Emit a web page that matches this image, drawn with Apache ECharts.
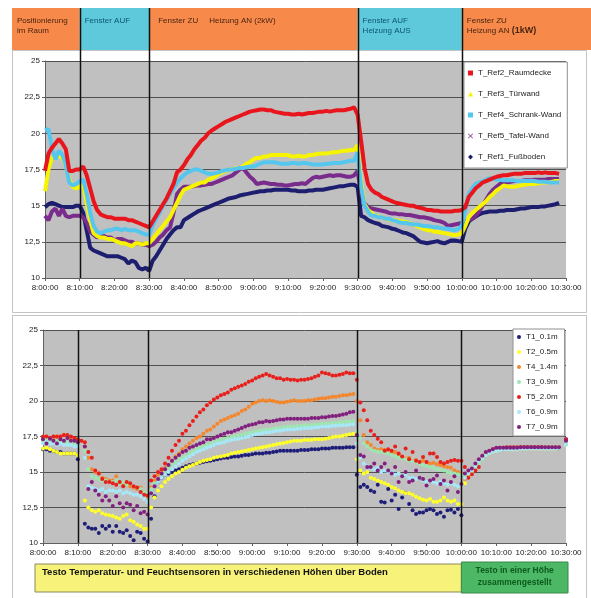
<!DOCTYPE html>
<html><head><meta charset="utf-8">
<script src="https://cdn.jsdelivr.net/npm/echarts@6/dist/echarts.min.js"></script>
<style>html,body{margin:0;padding:0;background:#fff}#c{width:591px;height:598px}</style>
</head><body><div id="c"></div>
<script>
// ---------- axis / labels ----------
const tickLabels = ['8:00:00','8:10:00','8:20:00','8:30:00','8:40:00','8:50:00','9:00:00','9:10:00','9:20:00','9:30:00','9:40:00','9:50:00','10:00:00','10:10:00','10:20:00','10:30:00'];
const eventMinutes = [10, 30, 90, 120]; // 8:10, 8:30, 9:30, 10:00
const phaseTexts = [
  ['Positionierung', 'im Raum'],
  ['Fenster AUF'],
  ['Fenster ZU     Heizung AN (2kW)'],
  ['Fenster AUF', 'Heizung AUS'],
  ['Fenster ZU', 'Heizung AN {b|(1kW)}']
];
const bandTexts = ['Testo Temperatur- und Feuchtsensoren in verschiedenen Höhen über Boden', 'Testo in einer Höhe', 'zusammengestellt'];

// ---------- top chart (one value per minute from 8:00) ----------
const topNames = ['T_Ref2_Raumdecke','T_Ref3_Türwand','T_Ref4_Schrank-Wand','T_Ref5_Tafel-Wand','T_Ref1_Fußboden'];
const topRef2 = [17.4,18.6,19.0,19.3,19.6,19.3,18.9,17.4,17.4,17.5,
 17.5,17.7,17.1,16.2,15.3,14.7,14.4,14.3,14.2,14.2,
 14.1,14.1,14.1,14.1,14.0,14.0,13.9,13.8,13.7,13.6,
 13.5,13.9,14.3,14.7,15.1,15.5,16.0,16.5,17.3,17.5,
 17.8,18.2,18.5,18.9,19.2,19.5,19.7,20.0,20.2,20.35,
 20.5,20.65,20.8,20.9,21.0,21.1,21.2,21.3,21.4,21.5,
 21.55,21.6,21.65,21.65,21.6,21.6,21.5,21.45,21.4,21.35,
 21.35,21.3,21.3,21.35,21.3,21.35,21.4,21.4,21.45,21.5,
 21.5,21.55,21.5,21.55,21.6,21.6,21.6,21.65,21.7,21.8,
 21.3,19.5,17.6,16.5,16.1,15.9,15.8,15.6,15.5,15.4,
 15.3,15.2,15.15,15.1,15.05,15.0,15.0,14.9,14.85,14.8,
 14.7,14.7,14.65,14.65,14.6,14.6,14.6,14.6,14.65,14.65,
 14.7,14.9,15.6,15.9,16.2,16.4,16.6,16.7,16.8,16.9,
 17.0,17.05,17.1,17.1,17.15,17.2,17.2,17.2,17.25,17.25,
 17.25,17.25,17.3,17.25,17.3,17.25,17.25,17.25,17.2,null,
 null];
const topRef3 = [16.0,17.5,18.3,18.5,18.4,18.3,17.8,16.8,16.3,16.2,
 16.3,16.4,15.2,14.0,13.1,12.9,12.8,12.8,12.7,12.7,
 12.6,12.5,12.4,12.4,12.3,12.2,12.4,12.4,12.3,12.4,
 12.4,12.7,13.0,13.3,13.6,13.9,14.2,14.7,15.2,15.7,
 16.1,16.2,16.3,16.4,16.5,16.6,16.6,16.8,16.9,17.0,
 17.2,17.3,17.4,17.5,17.5,17.6,17.6,17.7,17.9,18.0,
 18.2,18.3,18.3,18.4,18.4,18.5,18.5,18.5,18.5,18.5,
 18.5,18.4,18.4,18.45,18.4,18.4,18.5,18.5,18.55,18.6,
 18.6,18.6,18.65,18.7,18.7,18.75,18.8,18.8,18.85,18.85,
 19.2,16.6,15.1,14.7,14.5,14.3,14.25,14.2,14.1,14.05,
 14.0,14.0,13.95,13.9,13.85,13.8,13.7,13.6,13.5,13.4,
 13.3,13.3,13.2,13.2,13.15,13.1,13.05,13.0,12.95,13.0,
 13.1,13.6,14.2,14.5,14.7,14.9,15.1,15.3,15.6,15.8,
 16.05,16.2,16.4,16.35,16.3,16.3,16.35,16.4,16.45,16.5,
 16.5,16.5,16.55,16.6,16.6,16.6,16.65,16.7,16.7,null,
 null];
const topRef4 = [20.2,20.3,19.0,18.2,18.8,18.5,17.8,16.6,16.4,16.5,
 16.7,16.8,15.8,14.5,13.6,13.2,13.1,13.2,13.3,13.3,
 13.4,13.4,13.3,13.4,13.3,13.3,13.3,13.2,13.1,13.0,
 13.0,13.6,14.1,14.5,15.0,15.4,15.8,16.2,16.6,16.9,
 17.1,17.3,17.4,17.5,17.5,17.4,17.3,17.2,17.2,17.25,
 17.3,17.4,17.45,17.5,17.5,17.55,17.6,17.6,17.65,17.7,
 17.7,17.8,17.9,18.0,18.0,18.0,18.0,17.95,17.9,17.9,
 17.9,17.95,17.95,17.9,17.95,17.95,17.9,17.85,17.85,17.85,
 17.85,17.9,17.9,17.95,17.95,17.95,18.0,18.05,18.1,18.1,
 18.7,16.3,15.0,14.6,14.3,14.3,14.2,14.2,14.1,14.1,
 14.0,13.95,13.85,13.8,13.8,13.75,13.7,13.7,13.65,13.6,
 13.6,13.55,13.5,13.5,13.45,13.4,13.4,13.35,13.3,13.4,
 13.6,14.7,15.8,16.2,16.5,16.6,16.7,16.8,16.9,16.85,
 16.8,16.8,16.75,16.75,16.75,16.75,16.7,16.7,16.7,16.7,
 16.7,16.7,16.65,16.65,16.65,16.6,16.6,16.6,16.6,null,
 null];
const topRef5 = [14.3,14.0,14.6,14.8,14.3,14.8,14.3,14.2,14.3,14.3,
 14.3,14.2,13.8,13.2,13.0,12.8,12.9,12.9,12.8,12.8,
 12.6,12.7,12.7,12.6,12.5,12.5,12.4,12.4,12.3,12.3,
 12.2,12.3,12.5,12.8,13.0,13.3,13.5,14.5,15.8,16.1,
 16.3,16.3,16.3,16.35,16.4,16.4,16.45,16.5,16.5,16.6,
 16.7,16.8,16.9,17.0,17.1,17.3,17.5,17.6,17.3,17.0,
 16.8,16.5,16.55,16.6,16.55,16.5,16.5,16.45,16.45,16.4,
 16.4,16.45,16.5,16.5,16.55,16.5,16.7,16.9,17.0,16.95,
 17.0,17.05,17.1,17.05,17.1,17.1,17.05,17.0,17.0,17.1,
 17.4,15.85,15.15,14.9,14.8,14.75,14.7,14.65,14.6,14.5,
 14.45,14.45,14.4,14.4,14.35,14.35,14.3,14.25,14.2,14.2,
 14.15,14.1,14.0,13.95,13.9,13.8,13.6,13.65,13.7,13.75,
 13.8,13.9,14.0,14.1,14.3,14.6,15.0,15.4,15.8,16.1,
 16.3,16.5,16.6,16.6,16.65,16.7,16.7,16.7,16.75,16.75,
 16.75,16.8,16.8,16.8,16.8,16.85,16.85,16.85,16.85,null,
 null];
const topRef1 = [14.9,15.1,15.2,15.1,15.0,14.9,14.9,14.9,14.9,15.0,
 15.0,14.5,13.3,12.1,11.9,11.8,11.7,11.6,11.5,11.5,
 11.5,11.5,11.4,11.3,11.0,11.2,11.1,10.7,10.6,10.7,
 10.5,11.2,11.5,11.9,12.3,12.7,13.0,13.3,13.5,13.5,
 14.0,14.15,14.3,14.45,14.6,14.7,14.8,14.9,15.0,15.1,
 15.2,15.3,15.4,15.5,15.55,15.6,15.7,15.75,15.8,15.85,
 15.9,15.95,16.0,16.0,16.05,16.05,16.1,16.1,16.1,16.1,
 16.1,16.05,16.05,16.0,16.0,16.0,16.05,16.05,16.1,16.1,
 16.1,16.15,16.2,16.25,16.3,16.35,16.35,16.4,16.45,16.45,
 16.3,14.3,14.2,14.0,13.9,13.8,13.75,13.6,13.55,13.5,
 13.4,13.35,13.25,13.15,13.1,13.0,12.9,12.7,12.5,12.45,
 12.4,12.45,12.5,12.55,12.45,12.4,12.5,12.6,12.6,12.55,
 12.5,13.4,13.9,14.1,14.25,14.4,14.5,14.55,14.6,14.6,
 14.6,14.65,14.65,14.7,14.7,14.7,14.75,14.8,14.8,14.85,
 14.9,14.9,14.9,14.95,14.95,15.0,15.05,15.1,15.2,null,
 null];

// ---------- bottom chart (one value per minute from 8:00) ----------
const botNames = ['T1_0.1m','T2_0.5m','T4_1.4m','T3_0.9m','T5_2.0m','T6_0.9m','T7_0.9m'];
const botT1 = [16.6,16.6,16.5,16.5,16.4,16.4,16.3,16.3,16.3,16.3,
 15.9,null,11.35,11.1,11.0,11.0,10.7,11.2,11.0,11.2,
 10.8,11.2,10.8,10.7,10.9,10.5,10.2,10.8,10.7,10.3,
 10.1,11.7,13.3,14.3,14.6,14.8,14.9,15.0,15.1,15.2,
 15.3,15.4,15.5,15.55,15.6,15.65,15.7,15.75,15.8,15.85,
 15.9,15.95,16.0,16.0,16.05,16.1,16.1,16.15,16.2,16.2,
 16.25,16.3,16.3,16.3,16.35,16.35,16.4,16.45,16.5,16.5,
 16.5,16.5,16.5,16.5,16.55,16.55,16.55,16.6,16.6,16.6,
 16.65,16.65,16.65,16.7,16.7,16.7,16.7,16.75,16.75,16.75,
 14.8,13.95,14.1,13.95,13.7,13.6,14.1,12.9,12.85,13.8,
 13.0,13.4,12.4,13.2,13.5,12.75,12.3,12.05,12.15,12.15,
 12.3,12.4,12.3,12.05,12.15,11.85,12.3,12.35,12.15,12.4,
 11.95,14.6,14.8,15.05,15.35,15.7,16.05,16.25,16.4,16.5,
 16.55,16.6,16.6,16.65,16.65,16.65,16.65,16.7,16.7,16.7,
 16.7,16.7,16.7,16.7,16.7,16.7,16.7,16.7,16.7,null,
 17.3];
const botT2 = [16.65,16.7,16.6,16.5,16.4,16.3,16.3,16.3,16.3,16.3,
 16.2,null,13.0,12.5,12.3,12.2,12.3,12.1,12.0,11.95,
 11.9,11.8,11.7,11.9,12.0,11.6,11.5,11.3,11.2,11.0,
 11.0,12.5,13.2,13.7,14.0,14.3,14.5,14.7,14.9,15.0,
 15.15,15.3,15.4,15.5,15.6,15.7,15.8,15.85,15.9,16.0,
 16.05,16.1,16.15,16.2,16.3,16.35,16.4,16.45,16.5,16.55,
 16.6,16.65,16.7,16.75,16.8,16.85,16.9,16.95,17.0,17.05,
 17.1,17.15,17.2,17.2,17.2,17.25,17.25,17.25,17.3,17.3,
 17.3,17.35,17.4,17.45,17.5,17.5,17.55,17.6,17.65,17.7,
 15.9,15.1,14.9,15.0,14.6,14.5,14.4,14.3,14.2,14.1,
 13.95,13.85,13.7,13.6,13.5,13.5,13.4,13.25,13.15,13.05,
 13.0,13.1,12.9,12.9,13.0,13.2,13.0,12.9,13.0,12.75,
 12.75,14.2,14.7,15.0,15.3,15.65,15.95,16.2,16.35,16.45,
 16.5,16.55,16.6,16.6,16.6,16.6,16.6,16.65,16.65,16.65,
 16.65,16.65,16.65,16.65,16.65,16.65,16.65,16.65,16.65,null,
 16.9];
const botT4 = [17.4,17.5,17.4,17.5,17.4,17.5,17.6,17.5,17.4,17.3,
 17.2,null,16.8,16.0,15.2,15.0,14.9,14.6,14.5,14.4,
 14.4,14.7,14.3,14.2,14.1,14.0,13.9,13.8,13.9,13.6,
 13.3,13.9,14.4,14.8,15.0,15.3,15.5,15.8,16.1,16.3,
 16.6,16.8,17.0,17.2,17.4,17.5,17.7,17.9,18.0,18.2,
 18.4,18.6,18.7,18.8,18.9,19.0,19.1,19.3,19.4,19.6,
 19.8,19.9,20.0,20.05,20.0,20.05,20.0,19.95,19.9,19.9,
 19.95,20.0,20.05,20.0,20.0,20.0,20.05,20.05,20.1,20.15,
 20.2,20.2,20.25,20.3,20.3,20.35,20.4,20.4,20.45,20.5,
 20.0,18.65,17.6,17.1,16.9,16.65,16.55,16.6,16.55,16.4,
 16.3,16.4,16.2,16.05,15.95,16.0,15.8,15.85,15.7,15.8,
 15.7,15.6,15.65,15.55,15.5,15.4,15.35,15.3,15.1,15.0,
 14.9,14.5,14.75,15.0,15.2,15.7,16.05,16.25,16.4,16.5,
 16.6,16.65,16.7,16.7,16.7,16.7,16.7,16.75,16.75,16.75,
 16.75,16.75,16.75,16.75,16.75,16.75,16.75,16.75,16.75,null,
 17.2];
const botT3 = [17.2,17.3,17.2,17.1,17.2,17.1,17.2,17.1,17.1,17.0,
 16.9,null,16.5,15.2,14.7,14.6,14.5,14.4,14.4,14.3,
 14.3,14.4,14.2,14.3,14.1,14.2,14.0,13.9,13.8,13.6,
 13.5,13.8,14.2,14.5,14.8,15.0,15.3,15.5,15.7,15.9,
 16.0,16.15,16.3,16.45,16.6,16.7,16.8,16.9,17.0,17.1,
 17.2,17.25,17.3,17.4,17.45,17.5,17.55,17.6,17.7,17.75,
 17.8,17.85,17.9,17.95,18.0,18.0,18.05,18.1,18.1,18.15,
 18.2,18.2,18.2,18.25,18.25,18.3,18.3,18.3,18.35,18.35,
 18.4,18.4,18.4,18.45,18.45,18.5,18.5,18.55,18.55,18.6,
 17.9,17.4,17.0,16.8,16.6,16.5,16.45,16.4,16.35,16.3,
 16.2,16.1,16.0,15.95,15.9,15.8,15.75,15.7,15.6,15.5,
 15.4,15.35,15.3,15.2,15.15,15.1,15.0,14.95,14.9,14.85,
 14.8,14.8,14.9,15.1,15.3,15.6,15.9,16.15,16.3,16.45,
 16.5,16.55,16.6,16.6,16.6,16.65,16.65,16.65,16.65,16.65,
 16.7,16.7,16.7,16.7,16.7,16.7,16.7,16.7,16.7,null,
 17.0];
const botT5 = [17.5,17.5,17.4,17.5,17.5,17.5,17.6,17.6,17.5,17.4,
 17.3,17.2,17.1,16.4,16.0,15.1,14.9,14.5,14.3,14.3,
 14.2,14.1,14.3,14.0,14.3,14.2,14.0,13.9,13.6,13.4,
 13.35,14.4,14.7,15.0,15.2,15.6,16.0,16.5,16.9,17.2,
 17.7,17.9,18.3,18.6,18.9,19.2,19.4,19.7,19.9,20.1,
 20.25,20.4,20.5,20.6,20.8,20.9,21.0,21.1,21.2,21.35,
 21.45,21.6,21.7,21.8,21.9,21.8,21.7,21.6,21.6,21.5,
 21.55,21.5,21.5,21.45,21.5,21.5,21.55,21.6,21.7,21.8,
 22.0,21.95,21.9,21.8,21.8,21.85,21.9,22.0,21.95,21.95,
 21.5,19.9,19.35,18.65,17.9,17.6,17.35,17.1,16.5,16.6,
 16.5,16.8,16.3,16.1,16.65,15.9,16.4,15.8,15.7,16.05,
 15.7,16.3,16.3,16.05,15.7,15.6,15.7,15.8,15.85,15.8,
 15.8,15.35,14.6,14.85,15.1,15.35,16.05,16.3,16.45,16.6,
 16.65,16.7,16.7,16.75,16.75,16.75,16.75,16.75,16.75,16.75,
 16.75,16.75,16.75,16.75,16.7,16.7,16.7,16.7,16.65,null,
 17.3];
const botT6 = [17.0,17.1,17.0,17.0,16.9,17.0,16.9,16.9,16.9,16.8,
 16.8,null,16.0,14.0,13.9,13.8,13.7,13.8,13.6,13.7,
 13.7,13.6,13.7,13.5,13.6,13.5,13.4,13.4,13.3,13.1,
 12.9,13.6,14.0,14.3,14.6,14.8,15.0,15.2,15.4,15.6,
 15.8,15.95,16.1,16.25,16.4,16.5,16.6,16.7,16.8,16.9,
 17.0,17.05,17.1,17.2,17.25,17.3,17.35,17.4,17.45,17.5,
 17.6,17.65,17.7,17.75,17.8,17.8,17.85,17.9,17.9,17.95,
 18.0,18.0,18.0,18.05,18.05,18.1,18.1,18.1,18.15,18.15,
 18.2,18.2,18.2,18.25,18.25,18.3,18.3,18.3,18.35,18.35,
 17.0,16.0,15.6,15.4,15.3,15.2,15.3,15.0,15.1,15.0,
 15.0,14.8,14.9,14.7,14.8,14.6,14.6,14.5,14.6,14.4,
 14.3,14.4,14.3,14.2,14.3,14.2,14.1,14.2,14.1,14.0,
 14.1,14.6,14.9,15.1,15.4,15.75,16.0,16.2,16.35,16.45,
 16.5,16.55,16.6,16.6,16.6,16.6,16.6,16.65,16.65,16.65,
 16.65,16.65,16.65,16.65,16.65,16.65,16.65,16.65,16.65,null,
 16.9];
const botT7 = [17.3,17.0,17.35,17.2,17.0,17.3,17.2,17.4,17.2,17.2,
 17.1,null,16.8,13.8,14.3,13.7,13.4,13.0,13.3,13.0,
 12.6,13.3,12.8,12.5,12.8,12.7,12.3,12.6,12.1,12.2,
 12.0,13.5,14.0,14.5,14.9,15.2,15.5,15.8,16.0,16.2,
 16.4,16.5,16.7,16.8,16.9,17.0,17.1,17.3,17.3,17.4,
 17.5,17.6,17.7,17.8,17.8,17.9,18.0,18.1,18.2,18.3,
 18.35,18.4,18.5,18.5,18.6,18.55,18.6,18.65,18.7,18.7,
 18.75,18.75,18.75,18.75,18.75,18.75,18.75,18.8,18.8,18.8,
 18.85,18.85,18.9,18.95,18.95,19.0,19.05,19.1,19.2,19.25,
 17.6,16.2,16.1,15.35,15.35,15.6,15.1,15.35,15.6,15.1,
 14.9,15.35,14.3,14.7,15.0,14.3,14.4,15.1,14.6,14.5,
 14.05,14.4,14.5,14.75,14.15,14.4,13.7,14.3,14.7,13.6,
 14.15,14.9,15.1,15.25,15.6,15.9,16.15,16.4,16.5,16.6,
 16.7,16.7,16.7,16.7,16.7,16.7,16.7,16.75,16.75,16.75,
 16.75,16.75,16.75,16.75,16.75,16.75,16.75,16.75,16.75,null,
 17.2];

// ---------- styling ----------
const FONT = '"Liberation Sans", Arial, sans-serif';
const topColors = ['#e8161c', '#f6f400', '#55c6ee', '#7a2c8c', '#1e1e70'];
const topIcons = ['rect', 'triangle', 'rect', 'path://M0,1L1,0L5,4L9,0L10,1L6,5L10,9L9,10L5,6L1,10L0,9L4,5Z', 'diamond'];
const botColors = ['#1e1e78', '#ffff2a', '#f4862c', '#9ee6b0', '#e8201c', '#a6e8f8', '#82207e'];

const topSeriesData = [topRef2, topRef3, topRef4, topRef5, topRef1];
const botSeriesData = [botT1, botT2, botT4, botT3, botT5, botT6, botT7];

const chart = echarts.init(document.getElementById('c'), null, {renderer: 'canvas'});

function xAxisFor(g) {
  return {
    gridIndex: g, type: 'value', min: 0, max: 150, interval: 10,
    axisLine: {lineStyle: {color: '#606060'}},
    axisTick: {show: true, length: 3, lineStyle: {color: '#606060'}},
    axisLabel: {fontSize: 8, fontFamily: FONT, color: '#222', margin: 6,
      formatter: v => tickLabels[Math.round(v / 10)]},
    splitLine: {show: false}
  };
}
function yAxisFor(g) {
  return {
    gridIndex: g, type: 'value', min: 10, max: 25, interval: 2.5,
    axisLine: {show: true, lineStyle: {color: '#606060'}},
    axisTick: {show: true, length: 3, lineStyle: {color: '#606060'}},
    axisLabel: {fontSize: 8, fontFamily: FONT, color: '#222', margin: 5,
      formatter: v => String(v).replace('.', ',')},
    splitLine: {show: true, lineStyle: {color: '#505050', width: 1}}
  };
}

const drawOrderTop = [4, 3, 1, 2, 0];
const series = [];
drawOrderTop.forEach(k => {
  series.push({
    name: topNames[k], type: 'line', xAxisIndex: 0, yAxisIndex: 0,
    data: topSeriesData[k].map((v, i) => [i, v]),
    showSymbol: false, symbol: topIcons[k], symbolSize: 4,
    lineStyle: {width: 4, color: topColors[k]},
    itemStyle: {color: topColors[k]},
    connectNulls: false, animation: false
  });
});
botNames.forEach((n, k) => {
  series.push({
    name: n, type: 'scatter', xAxisIndex: 1, yAxisIndex: 1,
    data: botSeriesData[k].map((v, i) => [i, v]).filter(p => p[1] !== null),
    symbol: 'circle', symbolSize: 4,
    itemStyle: {color: botColors[k], opacity: 1},
    animation: false
  });
});

chart.setOption({
  animation: false,
  backgroundColor: '#ffffff',
  grid: [
    {left: 45, right: 25, top: 61, height: 217, show: true, backgroundColor: '#c0c0c0', borderWidth: 0},
    {left: 43, right: 25, top: 330, height: 213, show: true, backgroundColor: '#c0c0c0', borderWidth: 0}
  ],
  xAxis: [xAxisFor(0), xAxisFor(1)],
  yAxis: [yAxisFor(0), yAxisFor(1)],
  legend: [
    {
      left: 464, top: 62, orient: 'vertical', itemGap: 11, itemWidth: 5, itemHeight: 5,
      padding: [6, 6, 6, 4], backgroundColor: '#ffffff', borderColor: '#909090', borderWidth: 1,
      borderRadius: 0,
      textStyle: {fontSize: 8, fontFamily: FONT, color: '#222', lineHeight: 10},
      data: topNames.map((n, k) => ({name: n, icon: topIcons[k], itemStyle: {color: topColors[k]}})),
      selectedMode: false
    },
    {
      left: 513, top: 329, orient: 'vertical', itemGap: 5, itemWidth: 4, itemHeight: 4,
      padding: [3, 7, 4, 4], backgroundColor: '#ffffff', borderColor: '#909090', borderWidth: 1,
      borderRadius: 0,
      textStyle: {fontSize: 8, fontFamily: FONT, color: '#222', lineHeight: 10},
      data: botNames.map((n, k) => ({name: n, icon: 'circle', itemStyle: {color: botColors[k]}})),
      selectedMode: false
    }
  ],
  series: series
});

// ---------- decorations positioned through the axes ----------
const X = (g, m) => chart.convertToPixel({gridIndex: g}, [m, 10])[0];
const Y = (g, v) => chart.convertToPixel({gridIndex: g}, [0, v])[1];

const HEAD_TOP = 8, HEAD_BOT = 50;
const ORANGE = '#f7894a', CYAN = '#5ec9da';
const g = [];
// panels
g.push({type: 'rect', z: -10, shape: {x: 12.5, y: 50.5, width: 574, height: 262}, style: {fill: 'none', stroke: '#c4c4c4', lineWidth: 1}});
g.push({type: 'line', z: -10, shape: {x1: 12, y1: 315.5, x2: 587, y2: 315.5}, style: {stroke: '#c4c4c4', lineWidth: 1}});
g.push({type: 'line', z: -10, shape: {x1: 12.5, y1: 316, x2: 12.5, y2: 598}, style: {stroke: '#c4c4c4', lineWidth: 1}});
g.push({type: 'line', z: -10, shape: {x1: 586.5, y1: 316, x2: 586.5, y2: 598}, style: {stroke: '#c4c4c4', lineWidth: 1}});

// header phases
const bounds = [12, ...eventMinutes.map(m => X(0, m)), 591];
phaseTexts.forEach((lines, i) => {
  const x0 = bounds[i], x1 = bounds[i + 1];
  const cyan = (i === 1 || i === 3);
  g.push({type: 'rect', shape: {x: x0, y: HEAD_TOP, width: x1 - x0, height: HEAD_BOT - HEAD_TOP},
    style: {fill: cyan ? CYAN : ORANGE}, z: 1});
  g.push({type: 'text', z: 5, x: x0 + (i === 2 ? 9 : 5), y: 16,
    style: {text: lines.join('\n'), fontSize: 8, fontFamily: FONT, lineHeight: 10,
      fill: cyan ? '#0d5570' : '#4a2410',
      rich: {b: {fontSize: 9, fontWeight: 'bold', fontFamily: FONT, fill: '#4a2410'}}}});
});
// event lines
eventMinutes.forEach(m => {
  const x0 = Math.round(X(0, m)) + 0.5;
  g.push({type: 'line', z: 10, shape: {x1: x0, y1: HEAD_TOP, x2: x0, y2: Y(0, 10)}, style: {stroke: '#111', lineWidth: 1.5}});
  const x1 = Math.round(X(1, m)) + 0.5;
  g.push({type: 'line', z: 10, shape: {x1: x1, y1: Y(1, 25), x2: x1, y2: Y(1, 10)}, style: {stroke: '#111', lineWidth: 1.5}});
});
// bottom band
const bandSplit = X(1, eventMinutes[3]);
g.push({type: 'rect', shape: {x: 35, y: 564, width: bandSplit - 35, height: 28}, style: {fill: '#f6f27a', stroke: '#8a8a60', lineWidth: 1}});
g.push({type: 'rect', shape: {x: bandSplit, y: 562, width: 568 - bandSplit, height: 31}, style: {fill: '#4cb865', stroke: '#3a8a4a', lineWidth: 1}});
g.push({type: 'text', x: 42, y: 567, style: {text: bandTexts[0], fontSize: 9.5, fontWeight: 'bold', fontFamily: FONT, fill: '#111'}});
g.push({type: 'text', x: (bandSplit + 568) / 2, y: 565, style: {text: bandTexts[1] + '\n' + bandTexts[2], fontSize: 8.5, fontWeight: 'bold', fontFamily: FONT, lineHeight: 12, fill: '#0c5a1e', align: 'center'}});

chart.setOption({graphic: g});
</script>
</body></html>
